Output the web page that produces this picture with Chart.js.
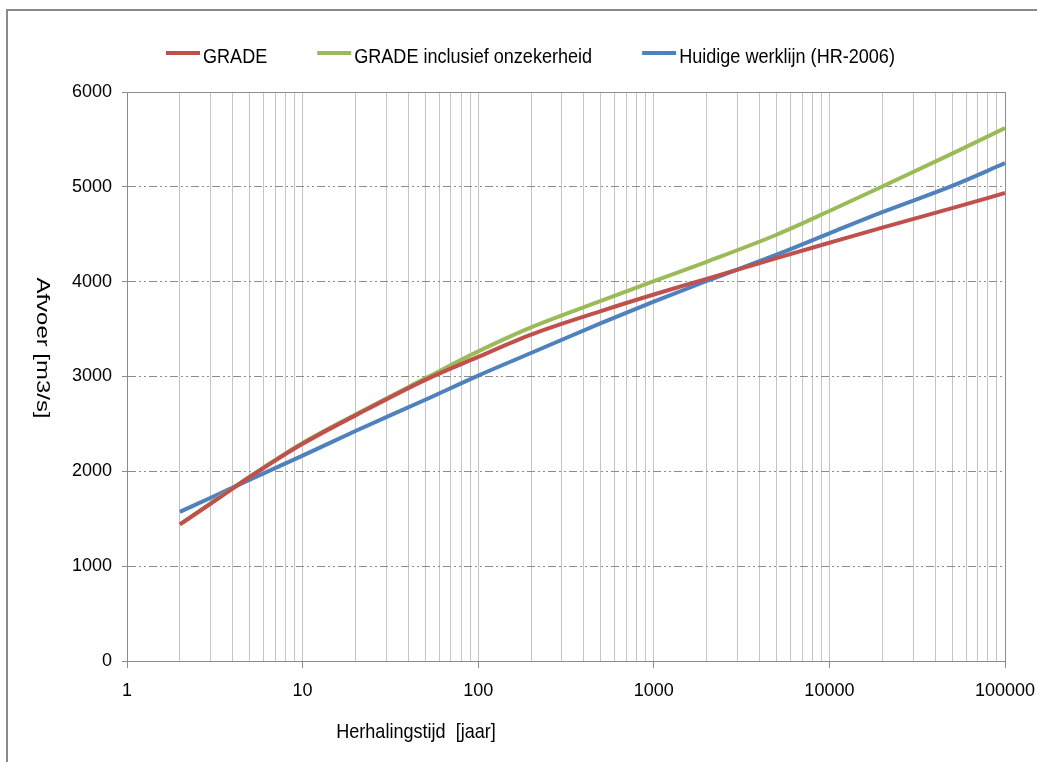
<!DOCTYPE html>
<html>
<head>
<meta charset="utf-8">
<script src="https://cdn.jsdelivr.net/npm/chart.js@4.4.0/dist/chart.umd.min.js"></script>
<style>
  html, body { margin: 0; padding: 0; background: #fff; }
</style>
</head>
<body>
<canvas id="afvoer" width="1037" height="762"></canvas>
<script>
/*-----------------------------
Data: herhalingstijd (jaar) tegen afvoer (m3/s)
------------------------------*/
const herhalingstijd = [2, 3, 5, 10, 20, 50, 100, 200, 500, 1000, 2000, 5000, 10000, 20000, 50000, 100000];
const grade          = [1440, 1660, 1940, 2290, 2590, 2965, 3207, 3442, 3690, 3865, 4030, 4248, 4410, 4570, 4775, 4935];
const gradeOnzeker   = [1440, 1665, 1945, 2300, 2600, 2980, 3265, 3518, 3797, 4005, 4210, 4495, 4745, 5003, 5350, 5620];
const werklijn       = [1572, 1722, 1912, 2165, 2425, 2755, 3010, 3248, 3562, 3790, 4007, 4285, 4510, 4733, 5010, 5250];

const reeksNamen   = ['GRADE', 'GRADE inclusief onzekerheid', 'Huidige werklijn (HR-2006)'];
const reeksKleuren = ['#c0504d', '#9bbb59', '#4f81bd'];

const yTicks   = [0, 1000, 2000, 3000, 4000, 5000, 6000];
const xDecades = [1, 10, 100, 1000, 10000, 100000];

const xTitel = 'Herhalingstijd  [jaar]';
const yTitel = 'Afvoer [m3/s]';

const FONT = "'Liberation Sans', Arial, sans-serif";

// alle log-rasterlijnen: 1..9 per decade
const xRaster = [];
xDecades.forEach((d) => {
    for (let m = 1; m <= 9; m++) {
        if (d * m <= 100000) xRaster.push(d * m);
    }
});

function punten(waarden) {
    return herhalingstijd.map((t, i) => ({ x: t, y: waarden[i] }));
}

// smalle tekst: 21px letter, horizontaal wat ingedrukt
function smalleTekst(ctx, tekst, x, y, align) {
    ctx.save();
    ctx.translate(x, y);
    ctx.scale(0.86, 1);
    ctx.textAlign = align || 'left';
    ctx.fillText(tekst, 0, 0);
    const w = ctx.measureText(tekst).width * 0.86;
    ctx.restore();
    return w;
}

//------------------------
// kader, legenda en astitels
//------------------------
const kader = {
    id: 'kader',
    beforeDatasetsDraw(chart) {
        const { ctx, chartArea: a } = chart;
        ctx.save();
        ctx.strokeStyle = '#8c8c8c';
        ctx.lineWidth = 1;
        ctx.beginPath();
        ctx.moveTo(a.left, a.top + 0.5);
        ctx.lineTo(a.right + 0.5, a.top + 0.5);
        ctx.lineTo(a.right + 0.5, a.bottom);
        ctx.stroke();
        ctx.restore();
    },
    afterDraw(chart) {
        const ctx = chart.ctx;
        ctx.save();

        // legenda
        ctx.font = '21px ' + FONT;
        ctx.fillStyle = '#000';
        ctx.textBaseline = 'alphabetic';
        let x = 166;
        chart.data.datasets.forEach((ds) => {
            ctx.strokeStyle = ds.borderColor;
            ctx.lineWidth = 4;
            ctx.beginPath();
            ctx.moveTo(x, 53);
            ctx.lineTo(x + 34, 53);
            ctx.stroke();
            const w = smalleTekst(ctx, ds.label, x + 37, 63);
            x += 37 + w + 50;
        });

        // x-as titel
        smalleTekst(ctx, xTitel, 416, 738, 'center');

        // y-as titel, kwartslag met de klok mee
        ctx.translate(42, 348);
        ctx.rotate(Math.PI / 2);
        ctx.scale(1.14, 0.85);
        ctx.textAlign = 'center';
        ctx.textBaseline = 'middle';
        ctx.fillText(yTitel, 0, 0);
        ctx.restore();

        // buitenrand
        ctx.save();
        ctx.strokeStyle = '#8a8a8a';
        ctx.lineWidth = 2;
        ctx.strokeRect(7, 10, 1060, 800);
        ctx.restore();
    }
};

const reeksen = [grade, gradeOnzeker, werklijn].map((w, i) => ({
    label: reeksNamen[i],
    data: punten(w),
    borderColor: reeksKleuren[i],
    backgroundColor: reeksKleuren[i],
    borderWidth: 4,
    pointRadius: 0,
    cubicInterpolationMode: 'monotone',
    fill: false
}));

new Chart(document.getElementById('afvoer'), {
    type: 'line',
    data: { datasets: reeksen },
    options: {
        responsive: false,
        animation: false,
        events: [],
        layout: { padding: { top: 92, right: 32, left: 0, bottom: 0 } },
        plugins: {
            legend: { display: false },
            tooltip: { enabled: false }
        },
        scales: {
            x: {
                type: 'logarithmic',
                min: 1,
                max: 100000,
                afterBuildTicks: (scale) => { scale.ticks = xRaster.map((v) => ({ value: v })); },
                afterFit: (scale) => {
                    scale.height = 101;
                    scale.paddingLeft = 0;
                    scale.paddingRight = 0;
                },
                ticks: {
                    autoSkip: false,
                    maxRotation: 0,
                    padding: 12,
                    color: '#000',
                    font: { family: FONT, size: 18 },
                    callback: (v) => xDecades.includes(v) ? String(v) : ''
                },
                grid: {
                    color: '#c4c4c4',
                    lineWidth: 1,
                    tickLength: 7,
                    tickColor: (c) => (c.tick && xDecades.includes(c.tick.value)) ? '#8c8c8c' : 'rgba(0,0,0,0)'
                },
                border: { color: '#8c8c8c', width: 1 }
            },
            y: {
                min: 0,
                max: 6000,
                afterBuildTicks: (scale) => { scale.ticks = yTicks.map((v) => ({ value: v })); },
                afterFit: (scale) => {
                    scale.width = 127;
                    scale.paddingTop = 0;
                    scale.paddingBottom = 0;
                },
                ticks: {
                    padding: 10,
                    color: '#000',
                    font: { family: FONT, size: 18 },
                    callback: (v) => String(v)
                },
                grid: { color: '#8c8c8c', lineWidth: 1, tickLength: 5, tickColor: '#8c8c8c' },
                border: { color: '#8c8c8c', width: 1, dash: [8, 3, 2, 3, 2, 3] }
            }
        }
    },
    plugins: [kader]
});
</script>
</body>
</html>
